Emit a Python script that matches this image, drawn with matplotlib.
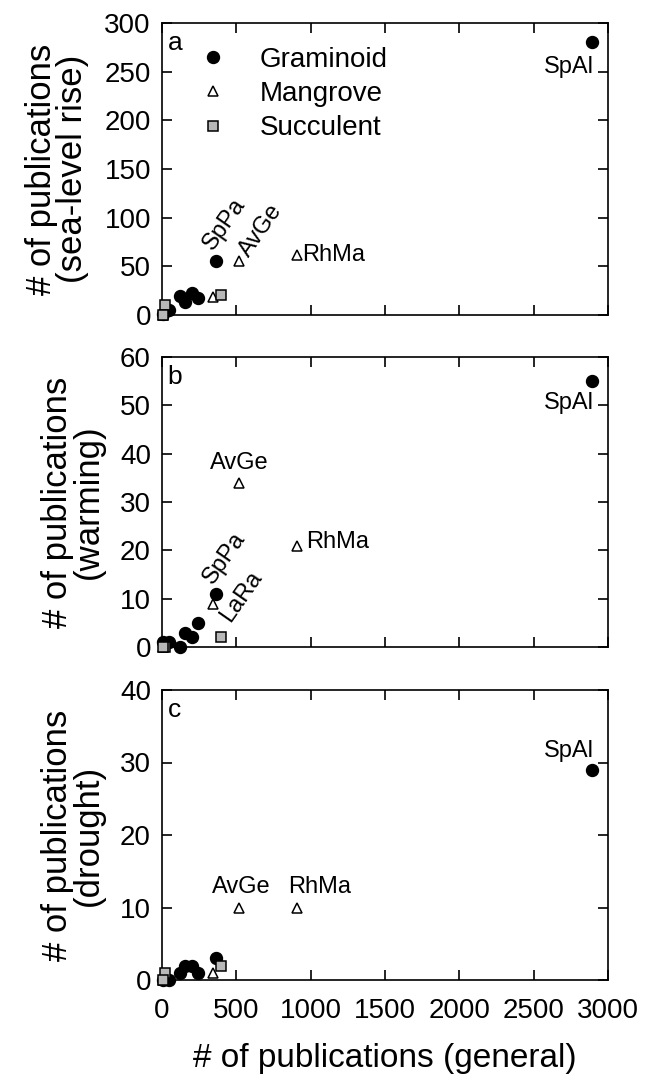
import matplotlib
matplotlib.use('Agg')
import matplotlib.pyplot as plt

plt.rcParams['font.family'] = ['Liberation Sans', 'DejaVu Sans']

# general publication counts per species
gram_x = [2890, 363, 242, 201, 158, 118, 45, 8]
mang_x = [908, 518, 345, 10]
succ_x = [396, 20, 5]

# panel a: sea-level rise
gram_a = [280, 55, 17, 23, 13, 20, 5, 1]
mang_a = [62, 55, 19, 0]
succ_a = [21, 10, 0]

# panel b: warming
gram_b = [55, 11, 5, 2, 3, 0, 1, 1]
mang_b = [21, 34, 9, 0]
succ_b = [2, 0, 0]

# panel c: drought
gram_c = [29, 3, 1, 2, 2, 1, 0, 0]
mang_c = [10, 10, 1, 0]
succ_c = [2, 1, 0]

panels = [
    ('a', '# of publications\n(sea-level rise)', gram_a, mang_a, succ_a, 300, 50),
    ('b', '# of publications\n(warming)', gram_b, mang_b, succ_b, 60, 10),
    ('c', '# of publications\n(drought)', gram_c, mang_c, succ_c, 40, 10),
]

# axes boxes in pixels (top, bottom) of the 1081 px tall figure
boxes = [(23, 315), (357, 647), (690, 980)]
H, W = 1081, 646

fig = plt.figure(figsize=(W / 100, H / 100), dpi=100)
axes = []
for (top, bot), (tag, ylab, g, m, s, ymax, ystep) in zip(boxes, panels):
    ax = fig.add_axes([162 / W, 1 - bot / H, (608 - 162) / W, (bot - top) / H])
    axes.append(ax)
    ax.plot(gram_x, g, 'o', color='black', ms=8.6, label='Graminoid', clip_on=False, zorder=3)
    ax.plot(mang_x, m, '^', mfc='white', mec='black', mew=1.1, ms=7.5, label='Mangrove', clip_on=False, zorder=3)
    ax.plot(succ_x, s, 's', mfc='#b8b8b8', mec='black', mew=1.1, ms=7.2, label='Succulent', clip_on=False, zorder=4)
    ax.set_xlim(0, 3000)
    ax.set_ylim(0, ymax)
    ax.set_xticks(range(0, 3001, 500))
    ax.set_yticks(range(0, ymax + 1, ystep))
    ax.tick_params(direction='in', length=7.2, width=1.2, labelsize=20, top=True, right=True)
    ax.tick_params(axis='y', pad=8)
    ax.tick_params(axis='x', pad=13)
    for sp in ax.spines.values():
        sp.set_linewidth(1.2)
    ax.set_ylabel(ylab, fontsize=25, linespacing=0.92, labelpad=11)
    ax.annotate(tag, (0, 1), xycoords='axes fraction', xytext=(4, -6), textcoords='offset points',
                fontsize=19, va='top', ha='left')
    if tag != 'c':
        ax.tick_params(labelbottom=False)

ax_a, ax_b, ax_c = axes
ax_c.set_xlabel('# of publications (general)', fontsize=24, labelpad=14)

ax_a.legend(loc='upper left', bbox_to_anchor=(0.02, 0.985), frameon=False, fontsize=20,
            handlelength=1.6, handletextpad=0.9, labelspacing=0.3, borderaxespad=0.3)

fs = 17
# panel a labels
ax_a.text(2905, 255, 'SpAl', fontsize=fs, ha='right', va='center')
ax_a.text(345, 66, 'SpPa', fontsize=fs, rotation=55, ha='left', va='baseline', rotation_mode='anchor')
ax_a.text(582, 59, 'AvGe', fontsize=fs, rotation=55, ha='left', va='baseline', rotation_mode='anchor')
ax_a.text(945, 62, 'RhMa', fontsize=fs, ha='left', va='center')
# panel b labels
ax_b.text(2905, 50.4, 'SpAl', fontsize=fs, ha='right', va='center')
ax_b.text(518, 35.8, 'AvGe', fontsize=fs, ha='center', va='bottom')
ax_b.text(970, 21.7, 'RhMa', fontsize=fs, ha='left', va='center')
ax_b.text(340, 12.7, 'SpPa', fontsize=fs, rotation=55, ha='left', va='baseline', rotation_mode='anchor')
ax_b.text(458, 5.0, 'LaRa', fontsize=fs, rotation=55, ha='left', va='baseline', rotation_mode='anchor')
# panel c labels
ax_c.text(2905, 31.6, 'SpAl', fontsize=fs, ha='right', va='center')
ax_c.text(336, 11.3, 'AvGe', fontsize=fs, ha='left', va='bottom')
ax_c.text(847, 11.3, 'RhMa', fontsize=fs, ha='left', va='bottom')

fig.savefig('out.png', dpi=100)
